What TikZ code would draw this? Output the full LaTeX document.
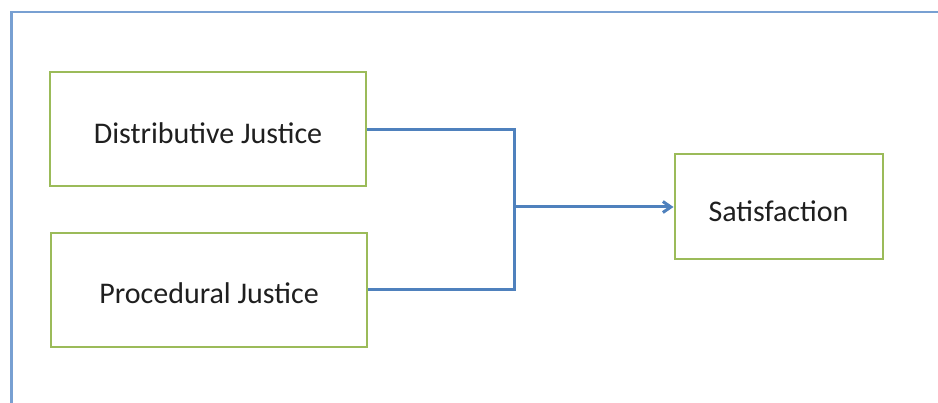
\documentclass[tikz,border=0pt]{standalone}
\usepackage{fontspec}
\setmainfont{Carlito}
\usetikzlibrary{arrows.meta}
\definecolor{frameblue}{RGB}{120,160,210}
\definecolor{lineblue}{RGB}{79,129,189}
\definecolor{boxgreen}{RGB}{155,187,89}
\tikzset{
  box/.style={draw=boxgreen, line width=2pt, fill=white, inner sep=0pt, font=\fontsize{30}{36}\selectfont, text=black!88},
  lbl/.style={font=\fontsize{30}{36}\selectfont, text=black!88, inner sep=0pt},
  conn/.style={draw=lineblue, line width=3pt},
}
\begin{document}
\begin{tikzpicture}[x=1pt,y=-1pt]
\useasboundingbox[fill=white] (0,0) rectangle (938,403);
\draw[frameblue, line width=2.2pt] (11.5,410) -- (11.5,12) -- (945,12);
\node[box, minimum width=316pt, minimum height=114pt] (dj) at (208,129) {};
\node[box, minimum width=316pt, minimum height=114pt] (pj) at (209,290.5) {};
\node[box, minimum width=208pt, minimum height=105pt] (sat) at (778.5,206.5) {};
\node[lbl] (djt) at (208,133) {Distributive Justice};
\node[lbl] (pjt) at (209,293) {Procedural Justice};
\node[lbl] (satt) at (778.5,211) {Satisfaction};
\coordinate (j1) at (514,130);
\coordinate (j2) at (514,290);
\coordinate (jm) at (514,207);
\draw[conn, line join=miter] (dj.east |- j1) -- (j1) -- (j2) -- (pj.east |- j2);
\draw[conn, -{Straight Barb[length=8pt,width=11pt]}] (jm) -- (sat.west |- jm);
\end{tikzpicture}
\end{document}
